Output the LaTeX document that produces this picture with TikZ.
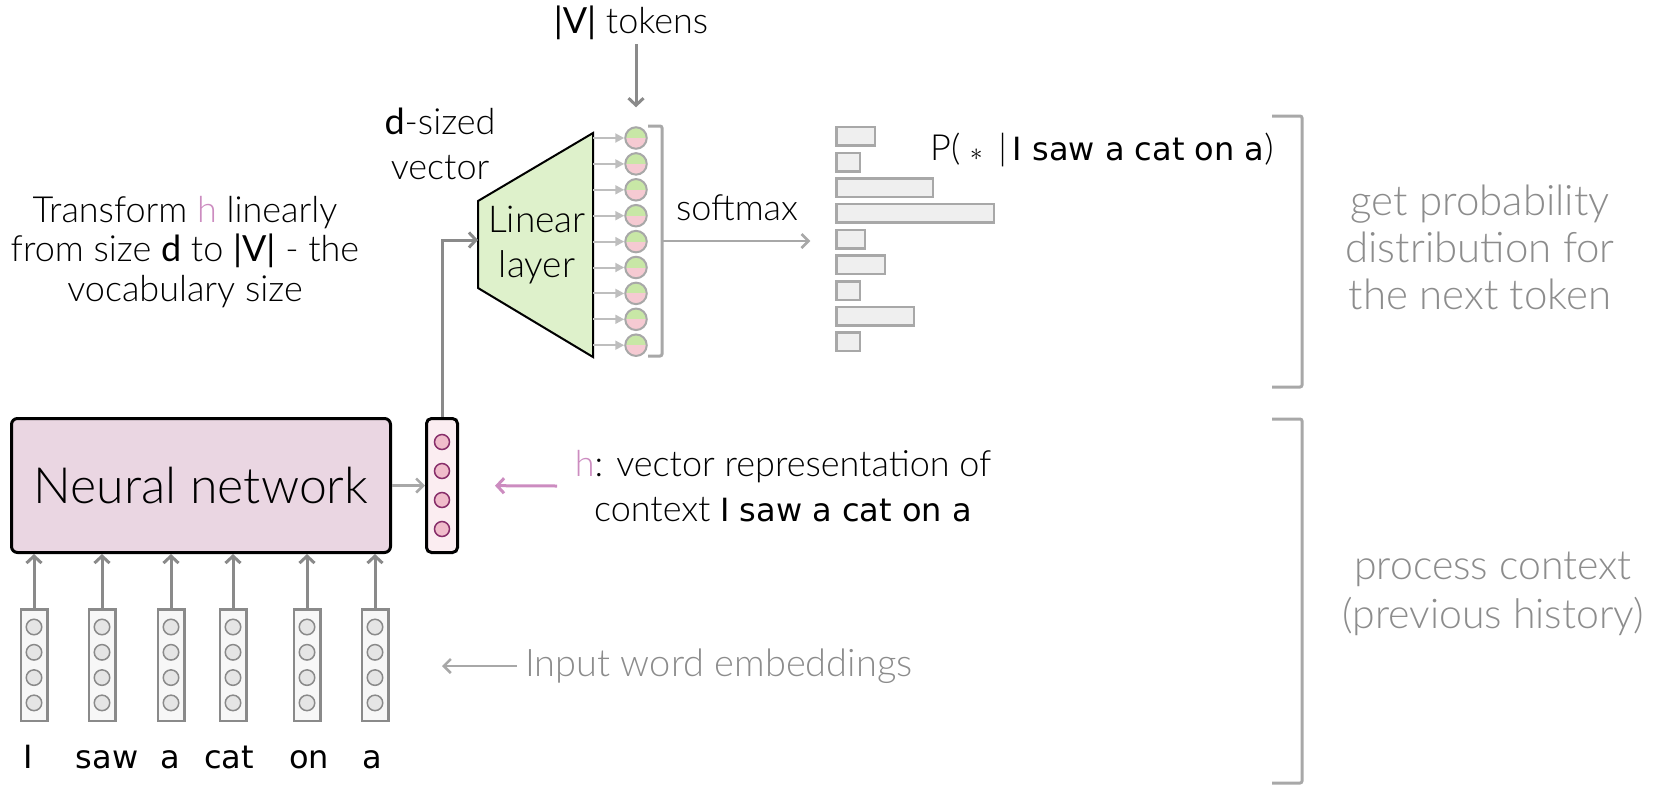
\documentclass[tikz,border=0pt]{standalone}
\usepackage{fontspec}
\setmainfont{Lato Light}[BoldFont={Lato}]
\newfontfamily\comic{DejaVu Sans}
\usetikzlibrary{arrows.meta,positioning,calc}

\definecolor{nnpink}{RGB}{234,214,226}
\definecolor{hback}{RGB}{251,237,241}
\definecolor{hdotfill}{RGB}{240,188,203}
\definecolor{hline}{RGB}{135,45,105}
\definecolor{hletter}{RGB}{204,140,192}
\definecolor{lingreen}{RGB}{222,241,203}
\definecolor{topgreen}{RGB}{200,231,166}
\definecolor{botpink}{RGB}{245,202,210}
\definecolor{darkline}{RGB}{138,138,138}
\definecolor{lightline}{RGB}{168,168,168}
\definecolor{barfill}{RGB}{239,239,239}
\definecolor{textgray}{RGB}{140,140,140}
\definecolor{embback}{RGB}{247,247,247}
\definecolor{embdotfill}{RGB}{229,229,229}

\tikzset{
  txt/.style={font=\fontsize{36}{45}\selectfont, align=center},
  gtxt/.style={font=\fontsize{42}{47}\selectfont, text=textgray, align=center},
  word/.style={font=\comic\fontsize{32}{40}\selectfont},
  grayarrow/.style={draw=darkline, line width=3pt, -{Straight Barb[length=7pt,width=15pt]}},
  lightarrow/.style={draw=lightline, line width=2.5pt, -{Straight Barb[length=7pt,width=14pt]}},
  tinyarrow/.style={draw=lightline!75, line width=2pt, -{Triangle[length=9pt,width=9pt]}},
  pinkarrow/.style={draw=hletter, line width=3pt, -{Straight Barb[length=7pt,width=15pt]}},
  nnbox/.style={draw=black, fill=nnpink, line width=3pt, rounded corners=6pt,
    minimum width=379pt, minimum height=134pt},
  hbox/.style={draw=black, fill=hback, line width=3pt, rounded corners=5pt,
    minimum width=31pt, minimum height=134pt},
  hdot/.style={circle, draw=hline, fill=hdotfill, line width=1.5pt, minimum size=15pt},
  embbox/.style={draw=darkline, fill=embback, line width=2.5pt,
    minimum width=26.5pt, minimum height=111.5pt},
  embdot/.style={circle, draw=darkline, fill=embdotfill, line width=1.5pt, minimum size=15.5pt},
  outdot/.style={circle, draw=lightline, line width=2pt, minimum size=21.5pt,
    path picture={
      \fill[topgreen] (path picture bounding box.north west) rectangle (path picture bounding box.east);
      \fill[botpink] (path picture bounding box.west) rectangle (path picture bounding box.south east);}},
  barbox/.style={draw=lightline, fill=barfill, line width=2.5pt, minimum height=18.5pt, anchor=west},
  bracket/.style={draw=lightline, line width=3pt, rounded corners=2pt},
}

\begin{document}
\begin{tikzpicture}[x=1pt,y=-1pt,every node/.append style={inner sep=0pt}]
\def\colgap{25.9}
\def\bargap{25.7}
\def\barleft{835.25}
\useasboundingbox (0,0) rectangle (1654,804);

% context part
\node[nnbox, font=\fontsize{50}{60}\selectfont] (nn) at (201,485.5) {Neural network};
\node[hbox] (hv) at (442,485.5) {};
\foreach \j in {0,...,3}
	\node[hdot] (h\j) at (442,{442+29*\j}) {};
\draw[lightarrow] (nn.east) -- (hv.west);

% input embeddings
\foreach \x/\w/\wx [count=\i] in {34/I/28,102/saw/107,171/a/170,233/cat/229,307/on/309,375/a/372}
{
	\node[embbox] (e\i) at (\x,665) {};
	\foreach \j in {0,...,3}
		\node[embdot] (e\i d\j) at (\x,{627+25.3*\j}) {};
	\draw[grayarrow] (e\i.north) -- (e\i.north |- nn.south);
	\node[word, anchor=base] (w\i) at (\wx,768) {\w};
}

% linear layer
\filldraw[fill=lingreen, draw=black, line width=2pt] (478,201) -- (593,133) -- (593,357) -- (478,288) -- cycle;
\coordinate (linin) at (478,240);
\coordinate (trr) at (593,245);
\node[txt, font=\fontsize{37}{45}\selectfont] (lin) at (537,245) {Linear\\layer};
\draw[grayarrow] (hv.north) |- (linin);

% |V| output units
\foreach \i in {1,...,9}
{
	\pgfmathsetmacro\yo{138+\colgap*(\i-1)}
	\node[outdot] (o\i) at (636,\yo) {};
	\draw[tinyarrow] (o\i.west -| trr) -- (o\i.west);
}
\draw[bracket] (648,126) -- (662,126) -- (662,356) -- (648,356);
\coordinate (smx) at (662,241);

% distribution bars
\foreach \w [count=\i] in {41,26,99,160,31,51,26,80,26}
{
	\pgfmathsetmacro\yb{136.3+\bargap*(\i-1)}
	\node[barbox, minimum width={(\w-2.5)*1pt}] (b\i) at (\barleft,\yb) {};
}
\draw[lightarrow, shorten >=25pt] (smx) -- (smx -| b1.west);
\node[txt] (sm) at (737,208) {softmax};
\node[txt, anchor=west] (prob) at (930,150)
	{P( {\fontsize{46}{46}\selectfont$\ast$} \,|\,{\comic\fontsize{32}{40}\selectfont I saw a cat on a})};

% labels
\node[txt] (tok) at (631,23) {\textbf{|V|} tokens};
\draw[grayarrow, shorten <=4pt, shorten >=19pt] (tok.south -| o1.north) -- (o1.north);
\node[txt] (dsz) at (440,143.5) {\textbf{d}-sized\\vector};
\node[txt, font=\fontsize{36}{39.5}\selectfont] (trf) at (185,252)
	{Transform {\color{hletter}h} linearly\\from size \textbf{d} to \textbf{|V|} - the\\vocabulary size};
\node[txt] (hlab) at (783,486)
	{{\color{hletter}h}: vector representation of\\context {\comic\fontsize{32}{40}\selectfont I saw a cat on a}};
\coordinate (hptr) at (557,486);
\draw[pinkarrow, shorten >=36pt] (hptr) -- (hv.east);
\node[txt, font=\fontsize{38}{45}\selectfont, text=textgray, anchor=west] (inp) at (525,666) {Input word embeddings};
\draw[lightarrow, shorten <=8pt] (inp.west) -- (inp.west -| hv);

% right hand side
\draw[bracket] (1272,116) -- (1302,116) -- (1302,387) -- (1272,387);
\draw[bracket] (1272,419) -- (1302,419) -- (1302,783) -- (1272,783);
\node[gtxt] (gp) at (1480,247) {get probability\\distribution for\\the next token};
\node[gtxt, font=\fontsize{41}{49}\selectfont] (pc) at (1493,593.5) {process context\\(previous history)};
\end{tikzpicture}
\end{document}
